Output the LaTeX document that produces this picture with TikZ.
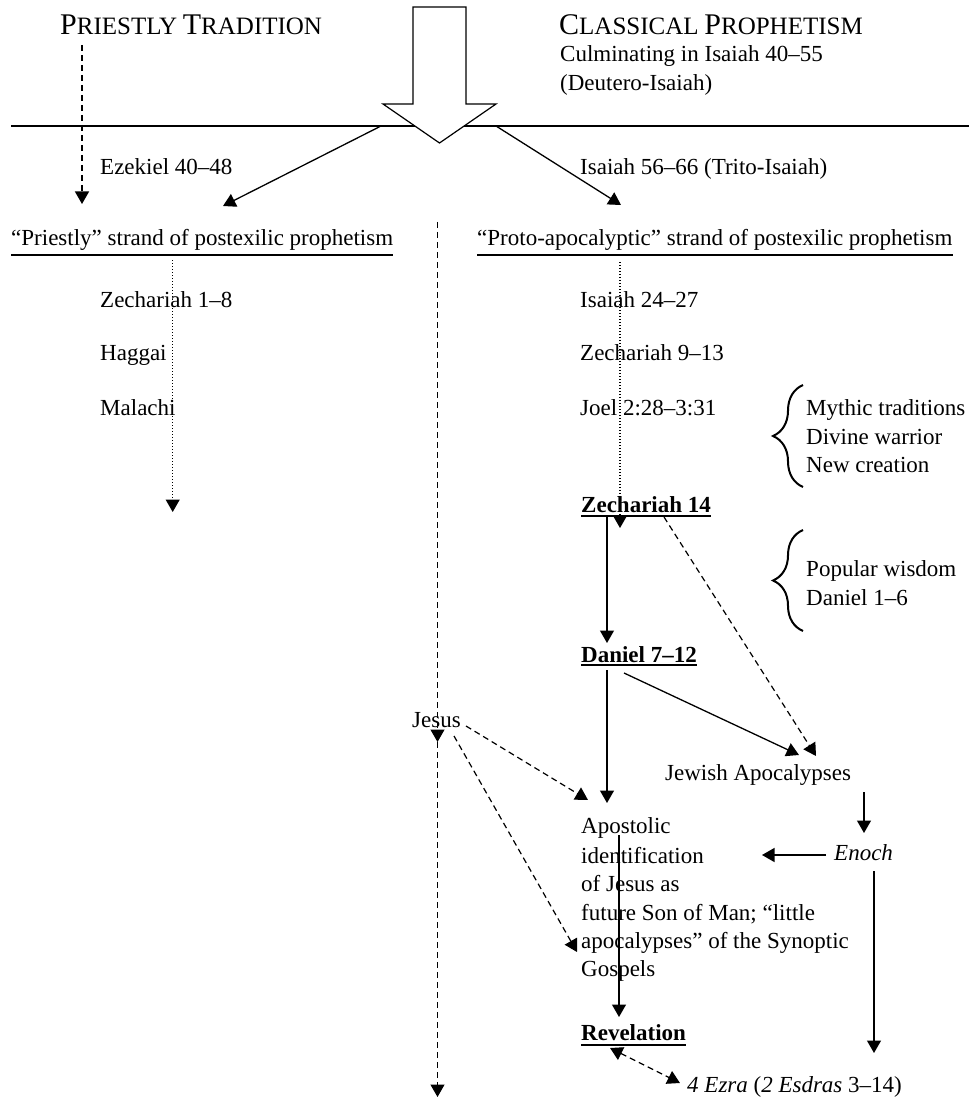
\documentclass[tikz,border=0pt]{standalone}
\usepackage{fontspec}
\setmainfont{Liberation Serif}
\usetikzlibrary{arrows.meta,decorations.pathreplacing}
\newcommand\fs{\fontsize{23}{28}\selectfont}
\newcommand\scA{\fontsize{30}{30}\selectfont}
\newcommand\scB{\fontsize{25}{30}\selectfont}
\begin{document}
\begin{tikzpicture}[x=1pt,y=-1pt,
  txt/.style={inner sep=0pt, anchor=base west, font=\fs},
  btxt/.style={txt, font=\fs\bfseries},
  arrowtip/.style={-{Triangle[length=12.5pt,width=14pt]}},
  conn/.style={line width=1.3pt, arrowtip},
  dsh/.style={line width=1.2pt, dash pattern=on 6pt off 4pt, arrowtip},
  dsh2/.style={line width=1.2pt, dash pattern=on 6pt off 4pt, {Triangle[length=12.5pt,width=14pt]}-{Triangle[length=12.5pt,width=14pt]}},
  dotl/.style={line width=1.1pt, dash pattern=on 1pt off 2pt, arrowtip},
  uline/.style={line width=1.2pt},
  buline/.style={line width=1.8pt},
  brc/.style={decorate, decoration={brace, amplitude=30pt}, line width=2pt}
]
\useasboundingbox (0,0) rectangle (972,1099);

% titles
\node[txt] (ptitle) at (60,35) {{\scA P}{\scB RIESTLY} {\scA T}{\scB RADITION}};
\node[txt] (ctitle) at (559,35) {{\scA C}{\scB LASSICAL} {\scA P}{\scB ROPHETISM}};
\node[txt] (culm) at (560,62) {Culminating in Isaiah 40–55};
\node[txt] (deut) at (560,91) {(Deutero-Isaiah)};

% horizontal line
\coordinate (hl1) at (11,126);
\coordinate (hl2) at (969,126);
\draw[line width=1.2pt] (hl1) -- (hl2);

% big block arrow
\draw[line width=1.2pt, fill=white] (413,7) -- (466,7) -- (466,104) -- (496,104)
  -- (439.5,143) -- (383,104) -- (413,104) -- cycle;

% second tier
\node[txt] (ezek) at (100,175) {Ezekiel 40–48};
\node[txt] (isa56) at (580,175) {Isaiah 56–66 (Trito-Isaiah)};
\node[txt] (pstrand) at (11,245) {“Priestly” strand of postexilic prophetism};
\node[txt] (prstrand) at (477,245) {“Proto-apocalyptic” strand of postexilic prophetism};
\draw[uline] ([yshift=-10pt]pstrand.base west) -- ([yshift=-10pt]pstrand.base east);
\draw[uline] ([yshift=-10pt]prstrand.base west) -- ([yshift=-10pt]prstrand.base east);

% left column
\node[txt] (zec18) at (100,307) {Zechariah 1–8};
\node[txt] (hag) at (100,360) {Haggai};
\node[txt] (mal) at (100,415) {Malachi};

% right column
\node[txt] (isa24) at (580,307) {Isaiah 24–27};
\node[txt] (zec913) at (580,360) {Zechariah 9–13};
\node[txt] (joel) at (580,415) {Joel 2:28–3:31};

\node[txt] (myth) at (806,415) {Mythic traditions};
\node[txt] (divw) at (806,444) {Divine warrior};
\node[txt] (newc) at (806,472) {New creation};
\draw[brc] (803,487) -- (803,385);

\node[btxt] (zec14) at (581,512) {Zechariah 14};
\draw[buline] ([yshift=-4pt]zec14.base west) -- ([yshift=-4pt]zec14.base east);

\node[txt] (popw) at (806,576) {Popular wisdom};
\node[txt] (dan16) at (806,605) {Daniel 1–6};
\draw[brc] (803,631) -- (803,530);

\node[btxt] (dan712) at (581,662) {Daniel 7–12};
\draw[buline] ([yshift=-3pt]dan712.base west) -- ([yshift=-3pt]dan712.base east);

\node[txt] (jesus) at (412,727) {Jesus};
\node[txt] (jewap) at (665,780) {Jewish Apocalypses};

\node[txt] (ap1) at (581,833) {Apostolic};
\node[txt] (ap2) at (581,863) {identification};
\node[txt] (ap3) at (581,891) {of Jesus as};
\node[txt] (ap4) at (581,920) {future Son of Man; “little};
\node[txt] (ap5) at (581,948) {apocalypses” of the Synoptic};
\node[txt] (ap6) at (581,976) {Gospels};

\node[txt] (enoch) at (834,860) {\itshape Enoch};

\node[btxt] (rev) at (581,1040) {Revelation};
\draw[buline] ([yshift=-5pt]rev.base west) -- ([yshift=-5pt]rev.base east);

\node[txt] (ezra) at (687,1092) {\textit{4 Ezra} (\textit{2 Esdras} 3–14)};

% connector coordinates
\coordinate (pdA) at (82,45);
\coordinate (pdB) at (82,204);
\coordinate (laA) at (381,126);
\coordinate (laB) at (223,206);
\coordinate (raA) at (496,126);
\coordinate (raB) at (621,205);
\coordinate (ldA) at (172.7,260);
\coordinate (ldB) at (172.7,512);
\coordinate (rdA) at (620,262);
\coordinate (rdB) at (620,528);
\coordinate (cA) at (437.5,222);
\coordinate (cM) at (437.5,742);
\coordinate (cB) at (437.5,1097);
\coordinate (zdA) at (607,515);
\coordinate (zdB) at (607,643);
\coordinate (zjA) at (664,517);
\coordinate (zjB) at (816,756);
\coordinate (daA) at (607,670);
\coordinate (daB) at (607,803);
\coordinate (djA) at (624,673);
\coordinate (djB) at (799,755);
\coordinate (jaA) at (466,726);
\coordinate (jaB) at (588,800);
\coordinate (jgA) at (454,736);
\coordinate (jgB) at (577,952);
\coordinate (jeA) at (864,792);
\coordinate (jeB) at (864,833);
\coordinate (eaA) at (826,855);
\coordinate (eaB) at (762,855);
\coordinate (edA) at (874,871);
\coordinate (edB) at (874,1053);
\coordinate (arA) at (619,835);
\coordinate (arB) at (619,1017);
\coordinate (reA) at (610,1048);
\coordinate (reB) at (680,1083);

% connectors
\draw[dsh] (pdA) -- (pdB);
\draw[conn] (laA) -- (laB);
\draw[conn] (raA) -- (raB);
\draw[dotl] (ldA) -- (ldB);
\draw[dotl] (rdA) -- (rdB);
\draw[dsh] (cA) -- (cM);
\draw[dsh] (cM) -- (cB);
\draw[conn] (zdA) -- (zdB);
\draw[dsh] (zjA) -- (zjB);
\draw[conn] (daA) -- (daB);
\draw[conn] (djA) -- (djB);
\draw[dsh] (jaA) -- (jaB);
\draw[dsh] (jgA) -- (jgB);
\draw[conn] (jeA) -- (jeB);
\draw[conn] (eaA) -- (eaB);
\draw[conn] (edA) -- (edB);
\draw[conn] (arA) -- (arB);
\draw[dsh2] (reA) -- (reB);
\end{tikzpicture}
\end{document}
